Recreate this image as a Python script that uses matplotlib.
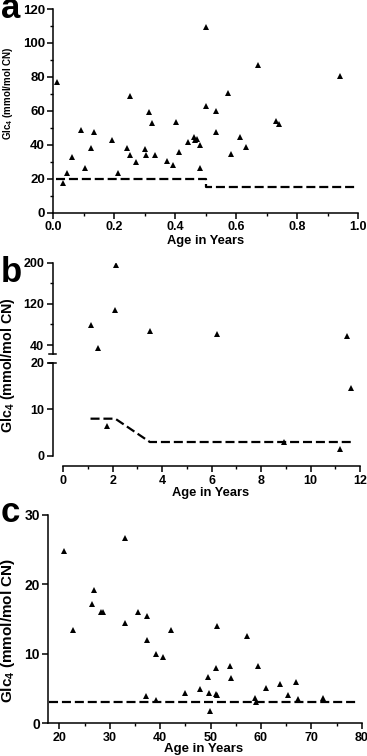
import numpy as np
import matplotlib
matplotlib.use('Agg')
import matplotlib.pyplot as plt
from matplotlib.ticker import MultipleLocator, FixedLocator

plt.rcParams['font.family'] = ['Liberation Sans', 'DejaVu Sans']
plt.rcParams['font.weight'] = 'bold'
plt.rcParams['mathtext.fontset'] = 'custom'
plt.rcParams['mathtext.rm'] = 'Liberation Sans:bold'
plt.rcParams['mathtext.bf'] = 'Liberation Sans:bold'
plt.rcParams['mathtext.it'] = 'Liberation Sans:bold'
plt.rcParams['lines.scale_dashes'] = False

# panel a - infants (age in years)
age_a = [0.011, 0.033, 0.044, 0.062, 0.092, 0.104, 0.122, 0.133, 0.193, 0.212,
         0.243, 0.252, 0.252, 0.272, 0.302, 0.303, 0.313, 0.323, 0.332, 0.373,
         0.392, 0.402, 0.412, 0.442, 0.461, 0.464, 0.470, 0.481, 0.482, 0.500,
         0.502, 0.532, 0.533, 0.572, 0.581, 0.611, 0.632, 0.670, 0.730, 0.740,
         0.940]
glc_a = [77.2, 17.2, 23.1, 32.6, 48.9, 26.1, 37.9, 47.3, 42.6, 23.1,
         38.1, 68.9, 33.8, 29.6, 37.5, 33.8, 59.5, 52.6, 34.1, 30.6,
         28.1, 53.2, 35.9, 41.4, 44.4, 42.8, 43.2, 39.6, 26.1, 109.2,
         63.0, 60.1, 47.5, 70.3, 34.7, 44.8, 38.5, 86.8, 54.0, 52.0,
         80.5]
ref_a_x = [0.01, 0.5, 0.5, 1.0]
ref_a_y = [20, 20, 15, 15]

# panel b - children
age_b = [1.12, 1.39, 2.12, 2.10, 3.51, 6.23, 11.46, 1.75, 8.94, 11.21, 11.64]
glc_b = [79, 33.7, 195, 107, 67.5, 61.7, 57.9, 6.5, 3.1, 1.4, 14.6]
ref_b_x = [1.1, 2.1, 3.5, 11.7]
ref_b_y = [8, 8, 3, 3]

# panel c - adults
age_c = [20.9, 22.7, 26.4, 26.9, 28.2, 28.6, 33.0, 33.1, 35.6, 37.4,
         37.3, 37.1, 39.1, 39.2, 40.6, 42.2, 44.9, 47.9, 49.4, 49.6,
         49.8, 51.0, 51.1, 51.3, 51.3, 53.8, 54.1, 57.2, 58.8, 59.0,
         59.4, 61.0, 63.8, 65.4, 67.0, 67.4, 72.3]
glc_c = [24.8, 13.5, 17.2, 19.2, 16.0, 16.0, 26.7, 14.4, 16.0, 15.5,
         12.0, 4.0, 3.4, 10.0, 9.55, 13.5, 4.4, 5.0, 6.7, 4.4,
         1.8, 7.9, 4.2, 4.1, 14.0, 8.2, 6.5, 12.6, 3.6, 3.1,
         8.3, 5.1, 5.6, 4.1, 5.9, 3.5, 3.6]
ref_c_x = [18.0, 79.0]
ref_c_y = [3.1, 3.1]

W, H = 367, 756
fig = plt.figure(figsize=(W / 100, H / 100), dpi=100)


def px_axes(left, top, right, bottom):
    return fig.add_axes([left / W, 1 - bottom / H, (right - left) / W, (bottom - top) / H])


def style(ax):
    for s in ['top', 'right']:
        ax.spines[s].set_visible(False)
    for s in ['left', 'bottom']:
        ax.spines[s].set_linewidth(1.1)
    ax.tick_params(which='major', length=4, width=1.1, labelsize=9, pad=2)
    ax.tick_params(which='minor', length=2.5, width=1.0)
    ax.patch.set_alpha(0)


dash = dict(color='black', lw=1.6, linestyle=(0, (6.5, 2.8)))
mk = dict(marker='^', ls='none', color='black', ms=5, mew=0)
ylab = r'Glc$_\mathbf{4}$ (mmol/mol CN)'

# ---- a
ax = px_axes(53.3, 9, 358.3, 212.5)
ax.plot(ref_a_x, ref_a_y, **dash)
ax.plot(age_a, glc_a, **mk)
ax.set_xlim(0, 1.0)
ax.set_ylim(0, 120)
ax.xaxis.set_major_locator(MultipleLocator(0.2))
ax.xaxis.set_minor_locator(MultipleLocator(0.1))
ax.yaxis.set_major_locator(MultipleLocator(20))
ax.yaxis.set_minor_locator(MultipleLocator(10))
ax.xaxis.set_major_formatter(matplotlib.ticker.FormatStrFormatter('%.1f'))
style(ax)
for t in ax.get_yticklabels():
    t.set_fontsize(9.5)

# ---- b (broken y axis)
axu = px_axes(52.7, 262.5, 360, 354.3)
axl = px_axes(52.7, 362.7, 360, 456)
for a in (axu, axl):
    a.plot(ref_b_x, ref_b_y, **dash)
    a.plot(age_b, glc_b, **mk)
    a.set_xlim(-0.43, 12)
    style(a)
axu.set_ylim(22, 200)
axl.set_ylim(0, 20)
axu.spines['bottom'].set_visible(False)
axu.tick_params(axis='x', which='both', bottom=False, labelbottom=False)
axu.yaxis.set_major_locator(FixedLocator([40, 120, 200]))
axu.yaxis.set_minor_locator(FixedLocator([80, 160]))
axl.yaxis.set_major_locator(FixedLocator([0, 10, 20]))
axl.xaxis.set_major_locator(MultipleLocator(2))
axl.xaxis.set_minor_locator(MultipleLocator(1))
axl.spines['bottom'].set_bounds(0, 12)
axl.spines['bottom'].set_position(('outward', 7.5))
axl.spines['left'].set_bounds(0, 20)
axu.spines['left'].set_bounds(22, 200)
axu.plot([-0.012, 0.012], [0, 0], transform=axu.transAxes, color='black', lw=1.1, clip_on=False)
axl.plot([-0.012, 0.012], [1, 1], transform=axl.transAxes, color='black', lw=1.1, clip_on=False)

# ---- c
axc = px_axes(48.3, 515, 361.7, 723.3)
axc.plot(ref_c_x, ref_c_y, **dash)
axc.plot(age_c, glc_c, **mk)
axc.set_xlim(17.8, 80)
axc.set_ylim(0, 30)
axc.xaxis.set_major_locator(MultipleLocator(10))
axc.xaxis.set_minor_locator(MultipleLocator(5))
axc.yaxis.set_major_locator(MultipleLocator(10))
style(axc)
for t in axc.get_yticklabels():
    t.set_fontsize(10)

# axis titles
fig.text(206 / W, 1 - 241 / H, 'Age in Years', ha='center', va='center', fontsize=9.3)
fig.text(211 / W, 1 - 493 / H, 'Age in Years', ha='center', va='center', fontsize=9.3)
fig.text(204 / W, 1 - 749 / H, 'Age in Years', ha='center', va='center', fontsize=9.5)
fig.text(8 / W, 1 - 93 / H, ylab, rotation=90, ha='center', va='center', fontsize=7)
fig.text(8.5 / W, 1 - 365 / H, ylab, rotation=90, ha='center', va='center', fontsize=10.3)
fig.text(8 / W, 1 - 630 / H, ylab, rotation=90, ha='center', va='center', fontsize=11)

# panel letters
fig.text(1 / W, 1 - 18.5 / H, 'a', ha='left', va='baseline', fontsize=25)
fig.text(1 / W, 1 - 282 / H, 'b', ha='left', va='baseline', fontsize=25)
fig.text(1 / W, 1 - 522 / H, 'c', ha='left', va='baseline', fontsize=25)

fig.savefig('out.png', dpi=100)
